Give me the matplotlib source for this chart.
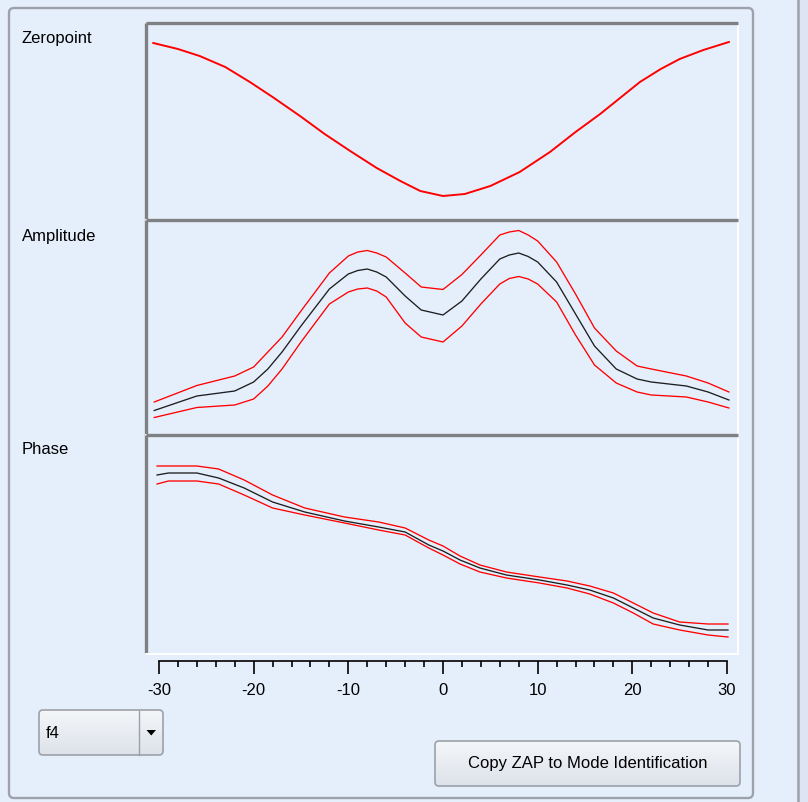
# ZAP panel: zeropoint / amplitude / phase vs. offset
import numpy as np
import matplotlib
matplotlib.use("Agg")
import matplotlib.pyplot as plt
from matplotlib.patches import FancyBboxPatch, Polygon, Rectangle
from matplotlib.colors import LinearSegmentedColormap

plt.rcParams['font.family'] = ['Liberation Sans', 'DejaVu Sans']

# ---- data ----
zp_x = [-30.6, -28, -25.7, -23, -20.4, -18, -15.1, -12.5, -9.8, -7, -4.5, -2.4, 0,
        2.3, 5, 8.1, 11.3, 14, 16.6, 18.7, 20.8, 23, 25, 27.5, 30.2]
zp = [17.7, 17.1, 16.4, 15.3, 13.8, 12.3, 10.4, 8.6, 6.9, 5.2, 3.9, 2.9, 2.4,
      2.6, 3.4, 4.8, 6.8, 8.8, 10.6, 12.2, 13.8, 15.1, 16.1, 17.0, 17.8]

amp_x = [-30.5, -26, -22, -20, -18.5, -17, -15, -12, -10, -9, -8, -7, -6, -4, -2.3, 0,
         2, 4, 6, 7, 8, 9, 10, 12, 14, 16, 18.3, 20.5, 22, 25.7, 28, 30.2]
amp = [2.45, 3.9, 4.4, 5.3, 6.6, 8.3, 10.9, 14.6, 16.1, 16.45, 16.6, 16.3, 15.8, 13.9, 12.5, 12.0,
       13.4, 15.6, 17.6, 18.0, 18.2, 17.85, 17.3, 15.3, 12.1, 8.9, 6.6, 5.6, 5.3, 4.9, 4.3, 3.5]
amp_hi = [3.3, 4.95, 5.9, 6.8, 8.3, 9.8, 12.4, 16.2, 17.9, 18.3, 18.45, 18.2, 17.8, 16.2, 14.8, 14.55,
          16.05, 18.0, 20.0, 20.3, 20.45, 20.0, 19.4, 17.3, 14.1, 10.7, 8.4, 6.9, 6.6, 5.9, 5.2, 4.3]
amp_lo = [1.75, 2.75, 3.0, 3.6, 4.9, 6.6, 9.3, 13.1, 14.3, 14.6, 14.7, 14.4, 13.8, 11.2, 9.8, 9.3,
          10.9, 13.1, 15.1, 15.65, 15.85, 15.6, 15.1, 13.3, 10.0, 7.0, 5.2, 4.3, 4.0, 3.8, 3.3, 2.7]

ph_x = [-30.2, -29, -26, -23.7, -21, -18, -14.6, -10.4, -6.8, -4, -1.5, 0,
        1.8, 3.9, 6.7, 10.2, 13.1, 15.5, 18, 20.1, 22.2, 25, 28, 30.1]
ph = [1.79, 1.81, 1.81, 1.76, 1.66, 1.52, 1.42, 1.33, 1.27, 1.22, 1.09, 1.03,
      0.94, 0.86, 0.79, 0.74, 0.69, 0.64, 0.56, 0.46, 0.36, 0.29, 0.24, 0.24]
ph_hi = [1.88, 1.88, 1.88, 1.85, 1.74, 1.59, 1.46, 1.37, 1.32, 1.26, 1.14, 1.08,
         0.98, 0.89, 0.82, 0.77, 0.73, 0.68, 0.61, 0.51, 0.41, 0.32, 0.30, 0.30]
ph_lo = [1.70, 1.73, 1.73, 1.70, 1.59, 1.46, 1.39, 1.31, 1.24, 1.19, 1.06, 0.99,
         0.90, 0.82, 0.76, 0.71, 0.66, 0.60, 0.51, 0.41, 0.30, 0.24, 0.19, 0.17]

tick_vals = [-30, -20, -10, 0, 10, 20, 30]
tick_labels = ['-30', '-20', '-10', '0', '10', '20', '30']
panel_names = ['Zeropoint', 'Amplitude', 'Phase']
dropdown_text = 'f4'
button_text = 'Copy ZAP to Mode Identification'

# ---- layout (pixels) ----
W, H = 808, 803
BG = '#e5effc'
FRAME = '#7e8084'
RED = '#ff0000'
XLIM = (-31.37, 31.16)

fig = plt.figure(figsize=(W / 100, H / 100), dpi=100, facecolor=BG)

gui = fig.add_axes([0, 0, 1, 1])
gui.set_xlim(0, W)
gui.set_ylim(H, 0)
gui.axis('off')


def px_axes(x0, y0, x1, y1):
    return fig.add_axes([x0 / W, 1 - y1 / H, (x1 - x0) / W, (y1 - y0) / H])


def gradient_box(x, y, w, h, top, bottom, ec):
    box = FancyBboxPatch((x, y), w, h, boxstyle='round,pad=0,rounding_size=4',
                         fc='none', ec=ec, lw=1.2, zorder=3)
    gui.add_patch(box)
    cmap = LinearSegmentedColormap.from_list('g', [top, bottom])
    im = gui.imshow(np.linspace(0, 1, 64)[:, None], cmap=cmap, aspect='auto',
                    extent=(x, x + w, y + h, y), zorder=2)
    im.set_clip_path(box)
    return box


# outer group frame and right strip
gui.add_patch(Rectangle((799, 0), 9, H, fc='#dfe4f4', ec='none'))
gui.plot([798, 798], [0, H], color='#9ea3ab', lw=1.8)
gui.add_patch(FancyBboxPatch((9, 9), 744, 790, boxstyle='round,pad=0,rounding_size=5',
                             fc=BG, ec='#9da2aa', lw=1.7))

# dropdown
gradient_box(39, 711, 124, 45, '#f4f6f9', '#dde2ea', '#9ca1a8')
gui.plot([139, 139], [711.5, 755.5], color='#9ca1a8', lw=1.0, zorder=4)
gui.add_patch(Polygon([(146.5, 731), (156, 731), (151.2, 736.5)], closed=True,
                      fc='black', ec='none', zorder=4))
gui.text(46, 733.5, dropdown_text, fontsize=12, va='center', ha='left', zorder=4)

# button
gradient_box(435, 742, 305, 45, '#f4f6f9', '#dde2ea', '#9ca1a8')
gui.text(588, 763.5, button_text, fontsize=12, va='center', ha='center', zorder=4)

gui.set_xlim(0, W)
gui.set_ylim(H, 0)

# panel labels
for name, y in zip(panel_names, [38, 237, 450]):
    gui.text(22, y, name, fontsize=12, va='center', ha='left')

# plot panels
bounds = [(24, 221), (221, 436), (436, 655)]
ylims = [(0, 19.7), (0, 21.5), (0, 2.19)]
axes = []
for (y0, y1), yl in zip(bounds, ylims):
    ax = px_axes(146, y0, 738, y1)
    ax.set_facecolor(BG)
    ax.set_xlim(*XLIM)
    ax.set_ylim(*yl)
    ax.set_xticks([])
    ax.set_yticks([])
    for s in ['left', 'top']:
        ax.spines[s].set_color(FRAME)
        ax.spines[s].set_linewidth(2.4)
        ax.spines[s].set_capstyle('butt')
    for s in ['right', 'bottom']:
        ax.spines[s].set_color('white')
        ax.spines[s].set_linewidth(1.4)
    axes.append(ax)

axes[0].plot(zp_x, zp, color=RED, lw=1.4)

axes[1].plot(amp_x, amp_hi, color=RED, lw=0.95)
axes[1].plot(amp_x, amp_lo, color=RED, lw=0.95)
axes[1].plot(amp_x, amp, color='#1e1e1e', lw=0.95)

axes[2].plot(ph_x, ph_hi, color=RED, lw=0.95)
axes[2].plot(ph_x, ph_lo, color=RED, lw=0.95)
axes[2].plot(ph_x, ph, color='#1e1e1e', lw=0.95)

# separate tick scale below the panels
tax = px_axes(146, 640, 738, 662)
tax.patch.set_visible(False)
tax.set_xlim(*XLIM)
tax.set_yticks([])
for s in ['left', 'top', 'right']:
    tax.spines[s].set_visible(False)
tax.spines['bottom'].set_bounds(-30, 30)
tax.spines['bottom'].set_linewidth(1.2)
tax.set_xticks(tick_vals)
tax.set_xticklabels(tick_labels, fontsize=12)
tax.set_xticks(np.arange(-30, 31, 2), minor=True)
tax.tick_params(axis='x', which='major', direction='out', length=9.4, width=1.2, pad=5.5)
tax.tick_params(axis='x', which='minor', direction='out', length=4.6, width=1.2)

fig.savefig('out.png', dpi=100, facecolor=BG)
